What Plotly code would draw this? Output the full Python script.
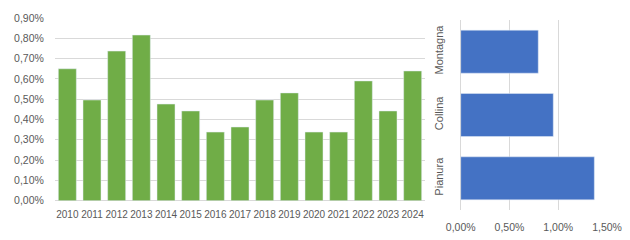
import plotly.graph_objects as go

years = [str(y) for y in range(2010, 2025)]
values_year = [0.65, 0.496, 0.737, 0.816, 0.476, 0.442, 0.338, 0.363, 0.496, 0.531, 0.338, 0.338, 0.590, 0.442, 0.639]
zones = ["Pianura", "Collina", "Montagna"]
values_zone = [1.37, 0.949, 0.795]

W, H = 630, 240
FONT = dict(family="Liberation Sans, Arial, sans-serif", size=10.5, color="#595959")
GRID = "#d9d9d9"

fig = go.Figure()
fig.add_trace(go.Bar(x=years, y=[v / 100 for v in values_year], marker_color="#70ad47",
                     xaxis="x", yaxis="y", showlegend=False))
fig.add_trace(go.Bar(y=zones, x=[v / 100 for v in values_zone], orientation="h",
                     marker_color="#4472c4", xaxis="x2", yaxis="y2", showlegend=False))

fig.update_layout(
    width=W, height=H, margin=dict(l=0, r=0, t=0, b=0, autoexpand=False),
    paper_bgcolor="white", plot_bgcolor="white",
    separators=",.", font=FONT, bargap=0.27,
    xaxis=dict(domain=[55 / W, 425 / W], anchor="y", showgrid=False, showline=False, automargin=False,
               tickangle=0, tickfont=dict(FONT, size=10), ticks="outside", ticklen=4, tickcolor="rgba(0,0,0,0)"),
    yaxis=dict(domain=[(H - 200.7) / H, (H - 18) / H], anchor="x", range=[0, 0.009], automargin=False,
               dtick=0.001, tickformat=".2%", gridcolor=GRID, gridwidth=1,
               zeroline=True, zerolinecolor=GRID, zerolinewidth=1, showline=False,
               ticks="outside", ticklen=8, tickcolor="rgba(0,0,0,0)", tickfont=FONT),
    xaxis2=dict(domain=[460.7 / W, 608 / W], anchor="y2", range=[0, 0.0151], dtick=0.005, automargin=False,
                tickformat=".2%", gridcolor=GRID, gridwidth=1, zeroline=True,
                zerolinecolor=GRID, zerolinewidth=1, showline=False, tickfont=FONT,
                ticks="outside", ticklen=7, tickcolor="rgba(0,0,0,0)"),
    yaxis2=dict(domain=[(H - 210) / H, (H - 20) / H], anchor="x2", showgrid=False, automargin=False,
                showline=False, tickangle=-90, tickfont=dict(FONT, size=11),
                ticks="outside", ticklen=12, tickcolor="rgba(0,0,0,0)"),
)
fig.update_traces(selector=dict(orientation="h"), width=0.68)

fig.write_html("out.html")
